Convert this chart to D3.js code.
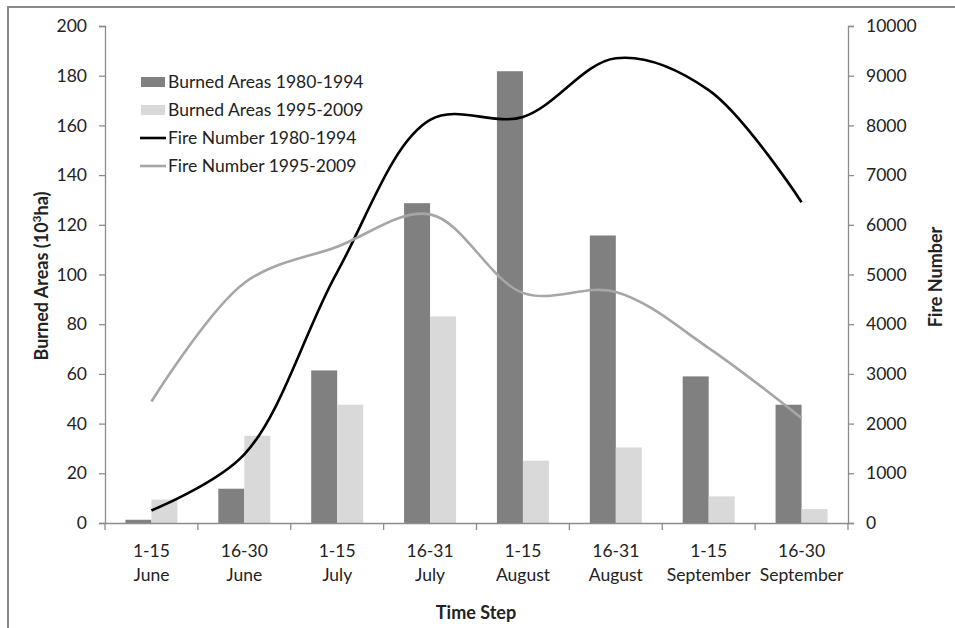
<!DOCTYPE html>
<html>
<head>
<meta charset="utf-8">
<script src="https://cdn.jsdelivr.net/npm/d3@7"></script>
<style>
  body { margin: 0; background: #fff; }
  text { font-family: Lato, "Open Sans", sans-serif; fill: #222; }
</style>
</head>
<body>
<svg width="955" height="628"></svg>
<script>
// time steps, two lines per label
var steps = ["1-15|June", "16-30|June", "1-15|July", "16-31|July",
             "1-15|August", "16-31|August", "1-15|September", "16-30|September"];

// burned areas (10^3 ha)
var burned8094 = [1.3, 13.8, 61.4, 128.7, 181.8, 115.7, 59, 47.6];
var burned9509 = [9.4, 35.1, 47.6, 83.1, 25.1, 30.4, 10.7, 5.6];

// fire numbers
var fires8094 = [253, 1380, 5050, 8110, 8170, 9350, 8710, 6455];
var fires9509 = [2445, 4830, 5560, 6210, 4630, 4650, 3520, 2110];

var leftTicks = [0, 20, 40, 60, 80, 100, 120, 140, 160, 180, 200];
var rightTicks = [0, 1000, 2000, 3000, 4000, 5000, 6000, 7000, 8000, 9000, 10000];

var barSeries = ["Burned Areas 1980-1994", "Burned Areas 1995-2009"];
var lineSeries = ["Fire Number 1980-1994", "Fire Number 1995-2009"];

function main(){
    var svg = d3.select("svg");

    // outer frame
    svg.append("rect").attr("x", 8).attr("y", 7).attr("width", 970).attr("height", 650)
        .attr("fill", "none").attr("stroke", "#8a8a8a").attr("stroke-width", 2);

    var left = 105, right = 848, top = 26, bottom = 523;
    var fs = "17.5px";

    var x = d3.scaleBand().domain(steps).range([left, right]).padding(0);
    var groupW = x.bandwidth() * 0.56;
    var xSub = d3.scaleBand().domain(barSeries).range([0, groupW]);
    var yL = d3.scaleLinear().domain([0, 200]).range([bottom, top]);
    var yR = d3.scaleLinear().domain([0, 10000]).range([bottom, top]);

    var axisColor = "#8c8c8c";

    // left axis
    var gl = svg.append("g").attr("transform", "translate(" + left + ",0)")
        .call(d3.axisLeft(yL).tickValues(leftTicks).tickSize(6).tickPadding(12));
    // right axis
    var gr = svg.append("g").attr("transform", "translate(" + right + ",0)")
        .call(d3.axisRight(yR).tickValues(rightTicks).tickFormat(d3.format("d")).tickSize(6).tickPadding(12));
    [gl, gr].forEach(function(g){
        g.select(".domain").attr("stroke", axisColor).attr("stroke-width", 1.3);
        g.selectAll(".tick line").attr("stroke", axisColor).attr("stroke-width", 1.3);
        g.selectAll(".tick text").style("font-size", fs).attr("fill", "#222");
    });

    var barColors = ["#808080", "#d9d9d9"];
    var tables = [burned8094, burned9509];

    tables.forEach(function(vals, s){
        svg.append("g").selectAll("rect")
            .data(vals)
            .enter()
            .append("rect")
            .attr("x", function(d, i){ return x(steps[i]) + (x.bandwidth() - groupW) / 2 + xSub(barSeries[s]); })
            .attr("y", function(d){ return yL(d); })
            .attr("width", xSub.bandwidth())
            .attr("height", function(d){ return bottom - yL(d); })
            .attr("fill", barColors[s]);
    });

    // bottom axis (drawn after bars)
    var gx = svg.append("g").attr("transform", "translate(0," + bottom + ")")
        .call(d3.axisBottom(x).tickSize(0).tickFormat(""));
    gx.select(".domain").attr("stroke", axisColor).attr("stroke-width", 1.3);
    // ticks at band boundaries
    var bounds = steps.map(function(s){ return x(s); }).concat([right]);
    gx.selectAll(".bound").data(bounds).enter().append("line")
        .attr("x1", function(d){ return d; }).attr("x2", function(d){ return d; })
        .attr("y1", 0).attr("y2", 7)
        .attr("stroke", axisColor).attr("stroke-width", 1.3);
    gx.selectAll(".tick").each(function(d){
        var parts = d.split("|");
        var t = d3.select(this).append("text").attr("text-anchor", "middle")
            .style("font-size", fs).attr("fill", "#222");
        t.append("tspan").attr("x", 0).attr("y", 34).text(parts[0]);
        t.append("tspan").attr("x", 0).attr("y", 58).text(parts[1]);
    });

    // lines
    var lineColors = ["#000000", "#a6a6a6"];
    [fires8094, fires9509].forEach(function(vals, s){
        var line = d3.line()
            .x(function(d, i){ return x(steps[i]) + x.bandwidth() / 2; })
            .y(function(d){ return yR(d); })
            .curve(d3.curveCatmullRom.alpha(0.5));
        svg.append("path").datum(vals)
            .attr("d", line)
            .attr("fill", "none")
            .attr("stroke", lineColors[s])
            .attr("stroke-width", 2.6);
    });

    // legend
    var lg = svg.append("g");
    var rows = [82, 110, 138, 166];
    barSeries.forEach(function(name, i){
        lg.append("rect").attr("x", 141).attr("y", rows[i] - 5).attr("width", 24).attr("height", 10)
            .attr("fill", barColors[i]);
        lg.append("text").attr("x", 168).attr("y", rows[i] + 6).style("font-size", fs).text(name);
    });
    lineSeries.forEach(function(name, i){
        var r = rows[i + 2];
        lg.append("line").attr("x1", 140).attr("x2", 166).attr("y1", r).attr("y2", r)
            .attr("stroke", lineColors[i]).attr("stroke-width", 2.6);
        lg.append("text").attr("x", 168).attr("y", r + 6).style("font-size", fs).text(name);
    });

    // axis titles
    var lt = svg.append("text").attr("transform", "translate(48,276) rotate(-90)")
        .attr("text-anchor", "middle").style("font-size", "18px").style("font-weight", "bold");
    lt.append("tspan").text("Burned Areas (10");
    lt.append("tspan").attr("baseline-shift", "super").style("font-size", "12px").text("3");
    lt.append("tspan").text("ha)");

    svg.append("text").attr("transform", "translate(942,277) rotate(-90)")
        .attr("text-anchor", "middle").style("font-size", "18px").style("font-weight", "bold")
        .text("Fire Number");

    svg.append("text").attr("x", 476).attr("y", 619)
        .attr("text-anchor", "middle").style("font-size", "18px").style("font-weight", "bold")
        .text("Time Step");
}
main();
</script>
</body>
</html>
